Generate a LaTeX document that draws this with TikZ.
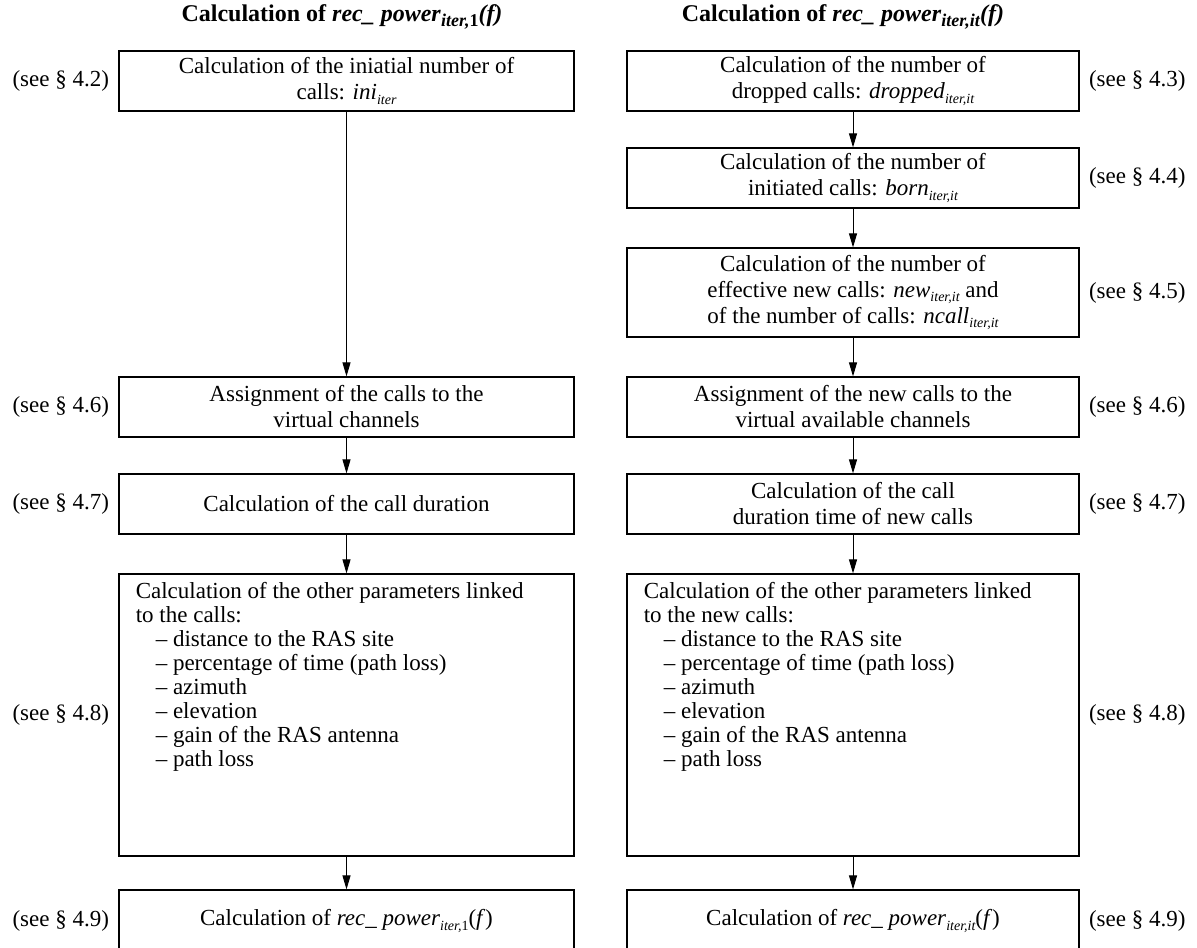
\documentclass[tikz,border=0pt]{standalone}
\usepackage{fontspec}
\setmainfont{Liberation Serif}
\usetikzlibrary{arrows.meta, positioning}
\newcommand{\lowidx}[1]{\raisebox{-0.45ex}{\fontsize{7}{8}\selectfont\itshape #1}}
\newcommand{\headidx}[1]{\raisebox{-0.4ex}{\fontsize{9}{10}\selectfont #1}}

\begin{document}
\begin{tikzpicture}[
    x=0.5pt, y=-0.5pt,
    node distance=4.5pt,
    every node/.style={font=\fontsize{11.5}{13}\selectfont},
    box/.style={draw, line width=0.6pt, align=center, inner sep=2pt, minimum height=30pt},
    leftbox/.style={box, minimum width=227.5pt},
    rightbox/.style={box, minimum width=226pt},
    listtext/.style={inner sep=0pt, align=left, font=\fontsize{11.5}{12}\selectfont},
    head/.style={font=\fontsize{12}{14}\selectfont\bfseries},
    ref/.style={inner sep=0pt},
    arrow/.style={-{Triangle[length=7pt, width=4pt]}, line width=0.5pt}
]
    \clip (0,0) rectangle (1197,947);

    % headers
    \node[head] (h1) at (342,17) {Calculation of \textit{rec\_ power}\headidx{\textit{iter,}1}\textit{(f)}};
    \node[head] (h2) at (843,17) {Calculation of \textit{rec\_ power}\headidx{\textit{iter,it}}\textit{(f)}};

    % first iteration
    \node[leftbox] (l1) at (346.5,81) {Calculation of the iniatial number of\\ calls: \textit{ini}\lowidx{iter}};
    \node[leftbox] (l2) at (346.5,407) {Assignment of the calls to the\\ virtual channels};
    \node[leftbox] (l3) at (346.5,504) {Calculation of the call duration};
    \node[leftbox, minimum height=141pt] (l4) at (346.5,715) {};
    \node[listtext, below right=4pt and 8.5pt of l4.north west] (l4t) {Calculation of the other parameters linked\\
        to the calls:\\
        \hspace*{10pt}-- distance to the RAS site\\
        \hspace*{10pt}-- percentage of time (path loss)\\
        \hspace*{10pt}-- azimuth\\
        \hspace*{10pt}-- elevation\\
        \hspace*{10pt}-- gain of the RAS antenna\\
        \hspace*{10pt}-- path loss};
    \node[leftbox, minimum height=31pt] (l5) at (346.5,921) {Calculation of \textit{rec\_ power}\lowidx{iter,\upshape 1}(\textit{f})};

    % next iterations
    \node[rightbox] (r1) at (853,81) {Calculation of the number of\\ dropped calls: \textit{dropped}\lowidx{iter,it}};
    \node[rightbox] (r2) at (853,178) {Calculation of the number of\\ initiated calls: \textit{born}\lowidx{iter,it}};
    \node[rightbox, minimum height=44.5pt] (r3) at (853,292.5) {Calculation of the number of\\ effective new calls: \textit{new}\lowidx{iter,it} and\\ of the number of calls: \textit{ncall}\lowidx{iter,it}};
    \node[rightbox] (r4) at (853,407) {Assignment of the new calls to the\\ virtual available channels};
    \node[rightbox] (r5) at (853,504) {Calculation of the call\\ duration time of new calls};
    \node[rightbox, minimum height=141pt] (r6) at (853,715) {};
    \node[listtext, below right=4pt and 8.5pt of r6.north west] (r6t) {Calculation of the other parameters linked\\
        to the new calls:\\
        \hspace*{10pt}-- distance to the RAS site\\
        \hspace*{10pt}-- percentage of time (path loss)\\
        \hspace*{10pt}-- azimuth\\
        \hspace*{10pt}-- elevation\\
        \hspace*{10pt}-- gain of the RAS antenna\\
        \hspace*{10pt}-- path loss};
    \node[rightbox, minimum height=31pt] (r7) at (853,921) {Calculation of \textit{rec\_ power}\lowidx{iter,it}(\textit{f})};

    % section references
    \node[ref, left=of l1] {(see § 4.2)};
    \node[ref, left=of l2] {(see § 4.6)};
    \node[ref, left=of l3] {(see § 4.7)};
    \node[ref, left=of l4] {(see § 4.8)};
    \node[ref, left=of l5] {(see § 4.9)};
    \node[ref, right=of r1] {(see § 4.3)};
    \node[ref, right=of r2] {(see § 4.4)};
    \node[ref, right=of r3] {(see § 4.5)};
    \node[ref, right=of r4] {(see § 4.6)};
    \node[ref, right=of r5] {(see § 4.7)};
    \node[ref, right=of r6] {(see § 4.8)};
    \node[ref, right=of r7] {(see § 4.9)};

    \draw[arrow] (l1) -- (l2);
    \draw[arrow] (l2) -- (l3);
    \draw[arrow] (l3) -- (l4);
    \draw[arrow] (l4) -- (l5);
    \draw[arrow] (r1) -- (r2);
    \draw[arrow] (r2) -- (r3);
    \draw[arrow] (r3) -- (r4);
    \draw[arrow] (r4) -- (r5);
    \draw[arrow] (r5) -- (r6);
    \draw[arrow] (r6) -- (r7);
\end{tikzpicture}
\end{document}
